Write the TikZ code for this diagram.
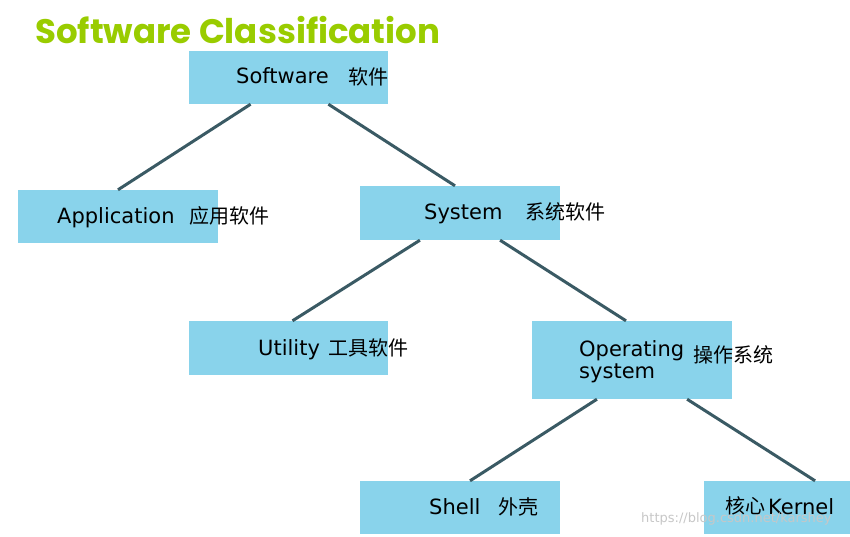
\documentclass[tikz,border=0pt]{standalone}
\usepackage{fontspec}
\setmainfont{DejaVu Sans}
\newfontfamily\cjk{Noto Sans CJK SC}
\newfontfamily\titlefont{Poppins}
\usetikzlibrary{calc}
\definecolor{boxblue}{RGB}{137,211,235}
\definecolor{branchcol}{RGB}{58,90,100}
\definecolor{titlegreen}{RGB}{153,204,0}

\begin{document}
\begin{tikzpicture}[x=1pt, y=-1pt,
    box/.style   ={fill=boxblue, draw=none, inner sep=0pt, minimum width=200pt, minimum height=53pt},
    eng/.style   ={font=\fontsize{21}{24}\selectfont, text=black, anchor=base west, inner sep=0pt, align=left},
    zh/.style    ={font=\cjk\fontsize{20}{22}\selectfont, text=black, anchor=west, inner sep=0pt},
    branch/.style={draw=branchcol, line width=3pt},
  ]
  \useasboundingbox (0,0) rectangle (850,536);

  % ---------------- title --------------------------------------------------
  \node[font=\titlefont\bfseries\fontsize{34}{38}\selectfont, text=titlegreen, anchor=base west, inner sep=0pt]
    (title) at (35,43) {Software Classification};

  % ---------------- the boxes ----------------------------------------------
  \node[box, minimum width=199pt]                    (sw)    at (288.5,77.5) {};
  \node[box]                                         (app)   at (118,216.5)  {};
  \node[box, minimum height=54pt]                    (sys)   at (460,213)    {};
  \node[box, minimum width=199pt, minimum height=54pt] (util) at (288.5,348)  {};
  \node[box, minimum height=78pt]                    (os)    at (632,360)    {};
  \node[box]                                         (shell) at (460,507.5)  {};
  \node[box, minimum width=146pt]                    (kern)  at (777,507.5)  {};

  % ---------------- the branches -------------------------------------------
  \draw[branch] ($(sw.south west)!0.31!(sw.south east)$)   -- (app.north);
  \draw[branch] ($(sw.south west)!0.70!(sw.south east)$)   -- ($(sys.north west)!0.475!(sys.north east)$);
  \draw[branch] ($(sys.south west)!0.30!(sys.south east)$) -- ($(util.north west)!0.52!(util.north east)$);
  \draw[branch] ($(sys.south west)!0.70!(sys.south east)$) -- ($(os.north west)!0.47!(os.north east)$);
  \draw[branch] ($(os.south west)!0.325!(os.south east)$)  -- ($(shell.north west)!0.55!(shell.north east)$);
  \draw[branch] ($(os.south west)!0.775!(os.south east)$)  -- ($(kern.north west)!0.76!(kern.north east)$);

  % ---------------- the labels ---------------------------------------------
  \node[eng] (swE)    at (236,83)  {Software};
  \node[zh]  (swZ)    at (348,77)  {软件};
  \node[eng] (appE)   at (57,223)  {Application};
  \node[zh]  (appZ)   at (189,216) {应用软件};
  \node[eng] (sysE)   at (424,219) {System};
  \node[zh]  (sysZ)   at (525,212) {系统软件};
  \node[eng] (utilE)  at (258,355) {Utility};
  \node[zh]  (utilZ)  at (328,348) {工具软件};
  \node[eng] (osE)    at (579,356) {Operating};
  \node[eng] (osE2)   at (579,378) {system};
  \node[zh]  (osZ)    at (693,355) {操作系统};
  \node[eng] (shellE) at (429,514) {Shell};
  \node[zh]  (shellZ) at (498,507) {外壳};
  \node[zh]  (kernZ)  at (725,506) {核心};
  \node[eng] (kernE)  at (768,514) {Kernel};

  % watermark
  \node[font=\fontsize{13}{15}\selectfont, text=black!22, anchor=base west, inner sep=0pt]
    (mark) at (641,522) {https://blog.csdn.net/karshey};
\end{tikzpicture}
\end{document}
